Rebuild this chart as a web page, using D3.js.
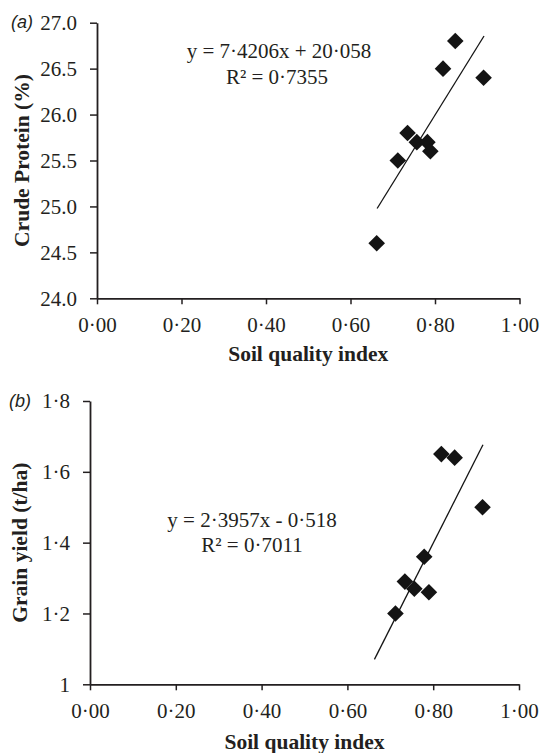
<!DOCTYPE html>
<html>
<head>
<meta charset="utf-8">
<script src="https://cdn.jsdelivr.net/npm/d3@7/dist/d3.min.js"></script>
<style>
  html, body { margin: 0; padding: 0; background: #fff; }
  svg { display: block; }
  .tick text { font-family: "Liberation Serif", "Times New Roman", serif; font-size: 21px; fill: #231f20; }
</style>
</head>
<body>
<div id="chart"></div>
<script>
// ---- Data ----
// Panel (a): Crude protein vs soil quality index
const sqiA = [0.662, 0.712, 0.735, 0.757, 0.782, 0.789, 0.819, 0.848, 0.915];
const proteinA = [24.6, 25.5, 25.8, 25.7, 25.7, 25.6, 26.5, 26.8, 26.4];
const slopeA = 7.4206, interceptA = 20.058;
const eqA = ["y = 7·4206x + 20·058", "R² = 0·7355"];
const yTicksA = [24.0, 24.5, 25.0, 25.5, 26.0, 26.5, 27.0];
const yTickLabelsA = ["24.0", "24.5", "25.0", "25.5", "26.0", "26.5", "27.0"];

// Panel (b): Grain yield vs soil quality index
const sqiB = [0.712, 0.734, 0.756, 0.779, 0.790, 0.819, 0.850, 0.915];
const yieldB = [1.20, 1.29, 1.27, 1.36, 1.26, 1.65, 1.64, 1.50];
const slopeB = 2.3957, interceptB = -0.518;
const eqB = ["y = 2·3957x - 0·518", "R² = 0·7011"];
const yTicksB = [1.0, 1.2, 1.4, 1.6, 1.8];
const yTickLabelsB = ["1", "1·2", "1·4", "1·6", "1·8"];

// Shared x axis
const xTicks = [0, 0.2, 0.4, 0.6, 0.8, 1.0];
const xTickLabels = ["0·00", "0·20", "0·40", "0·60", "0·80", "1·00"];
const trendRange = [0.663, 0.916];

// ---- Drawing ----
const W = 549, H = 753;
const ink = "#231f20";
const svg = d3.select("#chart").append("svg").attr("width", W).attr("height", H);

function panel(cfg) {
  const x = d3.scaleLinear().domain([0, 1]).range([cfg.x0, cfg.x1]);
  const y = d3.scaleLinear().domain(cfg.yDomain).range([cfg.yBottom, cfg.yTop]);
  const g = svg.append("g");

  // y axis
  const ya = g.append("g").attr("transform", `translate(${cfg.x0},0)`)
    .call(d3.axisLeft(y).tickValues(cfg.yTicks).tickFormat((d, i) => cfg.yLabels[i])
      .tickSize(7).tickSizeOuter(0).tickPadding(13));
  // x axis
  const xa = g.append("g").attr("transform", `translate(0,${cfg.yBottom})`)
    .call(d3.axisBottom(x).tickValues(xTicks).tickFormat((d, i) => xTickLabels[i])
      .tickSize(6).tickSizeOuter(0));
  xa.selectAll(".tick text").attr("y", 34).attr("dy", "0");
  [ya, xa].forEach(a => {
    a.select(".domain").attr("stroke", ink).attr("stroke-width", 1.8);
    a.selectAll(".tick line").attr("stroke", ink).attr("stroke-width", 1.5);
  });

  // markers
  const r = 8.3;
  const diamond = `M0,${-r}L${r},0L0,${r}L${-r},0Z`;
  g.selectAll("path.pt").data(cfg.xs).join("path")
    .attr("class", "pt")
    .attr("d", diamond)
    .attr("fill", "#141414")
    .attr("transform", (d, i) => `translate(${x(d)},${y(cfg.ys[i])})`);

  // trend line
  g.append("line")
    .attr("x1", x(trendRange[0])).attr("y1", y(cfg.slope * trendRange[0] + cfg.intercept))
    .attr("x2", x(trendRange[1])).attr("y2", y(cfg.slope * trendRange[1] + cfg.intercept))
    .attr("stroke", "#141414").attr("stroke-width", 1.3);

  // equation
  cfg.eq.forEach((t, i) => {
    g.append("text").attr("x", cfg.eqX[i]).attr("y", cfg.eqY[i])
      .attr("text-anchor", "middle")
      .attr("font-family", "'Liberation Serif', 'Times New Roman', serif")
      .attr("font-size", 21).attr("fill", ink).text(t);
  });

  // panel letter
  g.append("text").attr("x", cfg.letterX).attr("y", y(cfg.yDomain[1])).attr("dy", "0.32em")
    .attr("font-family", "'Liberation Sans', Arial, sans-serif").attr("font-style", "italic")
    .attr("font-size", 18).attr("fill", ink).text(cfg.letter);

  // axis titles
  g.append("text").attr("x", (cfg.x0 + cfg.x1) / 2).attr("y", cfg.yBottom + cfg.xTitleOff)
    .attr("text-anchor", "middle")
    .attr("font-family", "'Liberation Serif', 'Times New Roman', serif").attr("font-weight", "bold")
    .attr("font-size", 21.5).attr("fill", ink).text("Soil quality index");
  g.append("text")
    .attr("transform", `translate(${cfg.yTitleX},${(cfg.yTop + cfg.yBottom) / 2}) rotate(-90)`)
    .attr("text-anchor", "middle")
    .attr("font-family", "'Liberation Serif', 'Times New Roman', serif").attr("font-weight", "bold")
    .attr("font-size", 21.5).attr("fill", ink).text(cfg.yTitle);
}

panel({
  x0: 97, x1: 519.5, yTop: 22.7, yBottom: 298.3, yDomain: [24, 27],
  yTicks: yTicksA, yLabels: yTickLabelsA, xs: sqiA, ys: proteinA,
  slope: slopeA, intercept: interceptA, eq: eqA, eqX: [279, 277], eqY: [57.7, 84.3],
  letter: "(a)", letterX: 11, xTitleOff: 63, yTitleX: 28.5, yTitle: "Crude Protein (%)"
});

panel({
  x0: 90, x1: 519, yTop: 401, yBottom: 684.3, yDomain: [1, 1.8],
  yTicks: yTicksB, yLabels: yTickLabelsB, xs: sqiB, ys: yieldB,
  slope: slopeB, intercept: interceptB, eq: eqB, eqX: [252, 252], eqY: [527, 551.7],
  letter: "(b)", letterX: 9, xTitleOff: 65, yTitleX: 26.5, yTitle: "Grain yield (t/ha)"
});
</script>
</body>
</html>
